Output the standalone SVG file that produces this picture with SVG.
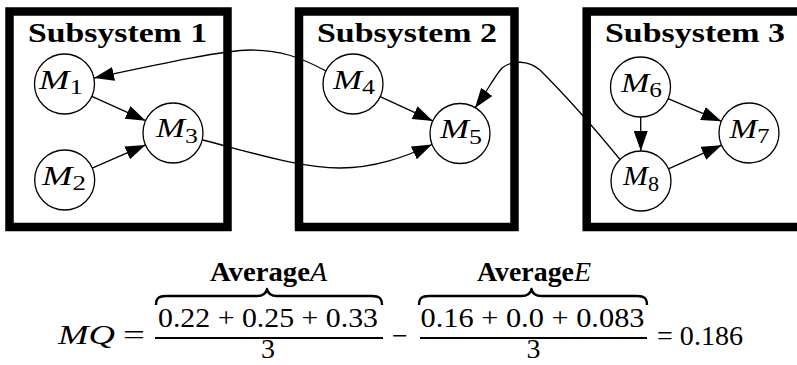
<svg xmlns="http://www.w3.org/2000/svg" width="797" height="365" viewBox="0 0 797 365">
<style>
.box{fill:none;stroke:#000;stroke-width:8.5}
.node circle{fill:#fff;stroke:#000;stroke-width:1.3}
.lbl{font-family:'Liberation Serif','DejaVu Serif',serif;font-style:italic;font-size:27px;fill:#000}
.sub{font-style:normal;font-size:20px}
.title{font-family:'Liberation Serif','DejaVu Serif',serif;font-weight:bold;font-size:28px;fill:#000}
.edge{fill:none;stroke:#000;stroke-width:1.3;marker-end:url(#ah)}
.math{font-family:'Liberation Serif','DejaVu Serif',serif;font-size:28px;fill:#000}
.it{font-style:italic}
.bold{font-weight:bold}
.rule{stroke:#000;stroke-width:2.2}
.brace{fill:none;stroke:#000;stroke-width:2.4;stroke-linejoin:round}
</style>
<defs>
<marker id="ah" markerUnits="userSpaceOnUse" markerWidth="20" markerHeight="14" refX="20" refY="7" orient="auto">
<path d="M0,0 L20,7 L0,14 z" fill="#000"/>
</marker>
</defs>
<rect width="797" height="365" fill="#fff"/>
<g id="subsystem1">
<rect class="box" x="9.5" y="11.5" width="218" height="215.5"/>
<text class="title" x="28" y="42" textLength="179" lengthAdjust="spacingAndGlyphs">Subsystem 1</text>
</g>
<g id="subsystem2">
<rect class="box" x="299" y="11.5" width="215.5" height="215.5"/>
<text class="title" x="317" y="42" textLength="180" lengthAdjust="spacingAndGlyphs">Subsystem 2</text>
</g>
<g id="subsystem3">
<rect class="box" x="586.7" y="11.5" width="230" height="215.5"/>
<text class="title" x="605" y="42" textLength="180" lengthAdjust="spacingAndGlyphs">Subsystem 3</text>
</g>
<g id="connectors">
<line class="edge" x1="91.8" y1="96.3" x2="145.7" y2="120.7"/>
<line class="edge" x1="92.2" y1="168.1" x2="145.5" y2="144.9"/>
<line class="edge" x1="380.2" y1="96.6" x2="432.8" y2="120.9"/>
<line class="edge" x1="668.1" y1="98.7" x2="721.4" y2="121.3"/>
<line class="edge" x1="668.4" y1="168.8" x2="721.6" y2="145.2"/>
<line class="edge" x1="640.7" y1="117" x2="640.8" y2="151"/>
<path class="edge" d="M326,71 C300,57 280,50 250,50 C225,50 160,64 94,78"/>
<path class="edge" d="M202.5,140 C250,152 300,168 340,168 C375,168 405,157 432,144.5"/>
<path class="edge" d="M620,159.5 C600,135 565,95 540,70 C528,60 512,60 502,68 C494,77 486,93 475,108"/>
</g>
<g id="M1" class="node"><circle cx="64.5" cy="84" r="30"/><text class="lbl" x="39" y="88.5" textLength="44" lengthAdjust="spacingAndGlyphs">M<tspan class="sub" dy="5.5">1</tspan></text></g>
<g id="M2" class="node"><circle cx="64.7" cy="180" r="30"/><text class="lbl" x="42" y="184.5" textLength="44" lengthAdjust="spacingAndGlyphs">M<tspan class="sub" dy="5.5">2</tspan></text></g>
<g id="M3" class="node"><circle cx="173" cy="133" r="30"/><text class="lbl" x="156" y="137" textLength="42" lengthAdjust="spacingAndGlyphs">M<tspan class="sub" dy="5.5">3</tspan></text></g>
<g id="M4" class="node"><circle cx="353" cy="84" r="30"/><text class="lbl" x="333" y="88.5" textLength="42" lengthAdjust="spacingAndGlyphs">M<tspan class="sub" dy="5.5">4</tspan></text></g>
<g id="M5" class="node"><circle cx="460" cy="133.5" r="30"/><text class="lbl" x="440" y="138" textLength="42" lengthAdjust="spacingAndGlyphs">M<tspan class="sub" dy="5.5">5</tspan></text></g>
<g id="M6" class="node"><circle cx="640.5" cy="87" r="30"/><text class="lbl" x="621" y="91.5" textLength="41" lengthAdjust="spacingAndGlyphs">M<tspan class="sub" dy="5.5">6</tspan></text></g>
<g id="M7" class="node"><circle cx="749" cy="133" r="30"/><text class="lbl" x="729.5" y="137.5" textLength="40" lengthAdjust="spacingAndGlyphs">M<tspan class="sub" dy="5.5">7</tspan></text></g>
<g id="M8" class="node"><circle cx="641" cy="181" r="30"/><text class="lbl" x="623" y="185" textLength="36" lengthAdjust="spacingAndGlyphs">M<tspan class="sub" dy="5.5">8</tspan></text></g>
<g id="formula">
<text class="math it" x="58" y="344" textLength="57" lengthAdjust="spacingAndGlyphs">MQ</text>
<text class="math" x="123" y="344" textLength="22" lengthAdjust="spacingAndGlyphs">=</text>
<text class="math bold" x="210" y="281" font-size="18" textLength="100" lengthAdjust="spacingAndGlyphs">Average</text>
<text class="math it" x="310" y="281" font-size="18">A</text>
<path class="brace" d="M156,305 C156,298 159,296 166,296 L257,296 C263,296 266,294 267,289 C268,294 271,296 277,296 L372,296 C379,296 382,298 382,305"/>
<text class="math" x="268" y="327" text-anchor="middle" textLength="220" lengthAdjust="spacingAndGlyphs">0.22 + 0.25 + 0.33</text>
<line class="rule" x1="155" y1="338" x2="383" y2="338"/>
<text class="math" x="268" y="358" text-anchor="middle" font-size="24">3</text>
<text class="math" x="400" y="345" text-anchor="middle">−</text>
<text class="math bold" x="477" y="281" font-size="18" textLength="97" lengthAdjust="spacingAndGlyphs">Average</text>
<text class="math it" x="574" y="281" font-size="18">E</text>
<path class="brace" d="M419,305 C419,298 422,296 429,296 L521.5,296 C527.5,296 530.5,294 531.5,289 C532.5,294 535.5,296 541.5,296 L637,296 C644,296 647,298 647,305"/>
<text class="math" x="532.5" y="327" text-anchor="middle" textLength="224" lengthAdjust="spacingAndGlyphs">0.16 + 0.0 + 0.083</text>
<line class="rule" x1="420" y1="338" x2="647" y2="338"/>
<text class="math" x="533.5" y="358" text-anchor="middle" font-size="24">3</text>
<text class="math" x="657" y="345" textLength="86" lengthAdjust="spacingAndGlyphs">= 0.186</text>
</g>
</svg>
